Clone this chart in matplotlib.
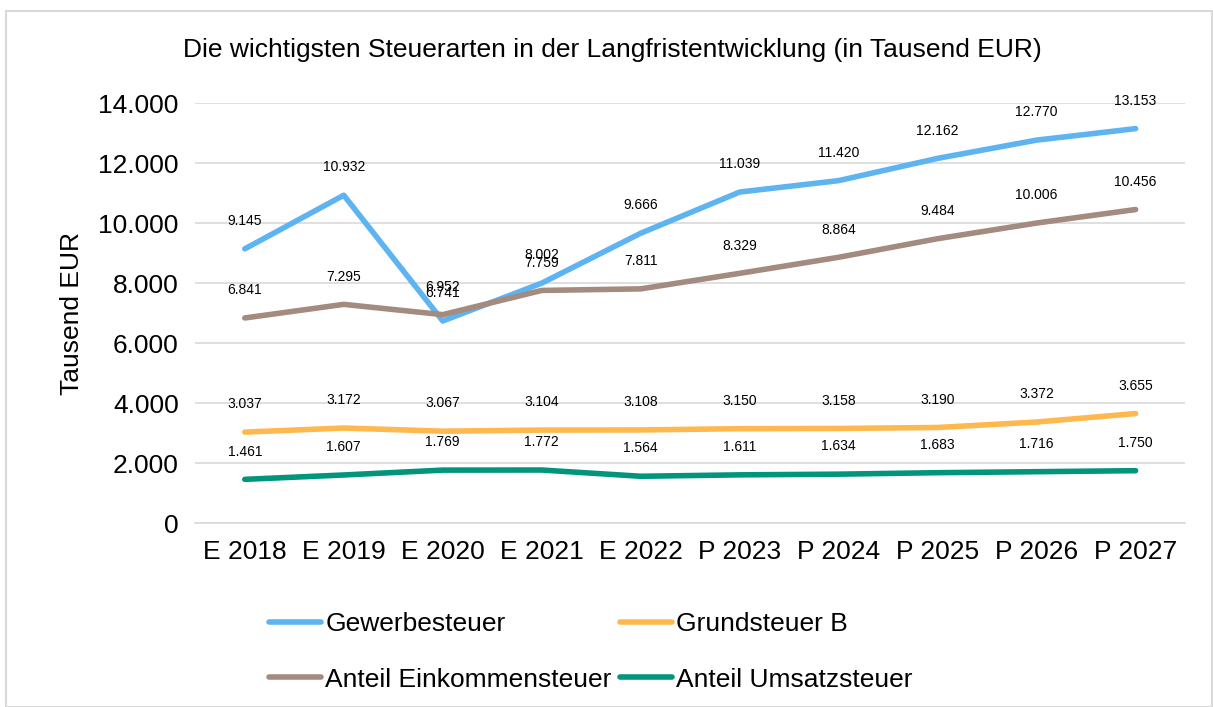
import matplotlib.pyplot as plt
from matplotlib.patches import Rectangle

plt.rcParams['font.family'] = ['Liberation Sans Narrow', 'Liberation Sans', 'DejaVu Sans']

# Daten
jahre = ['E 2018', 'E 2019', 'E 2020', 'E 2021', 'E 2022', 'P 2023', 'P 2024', 'P 2025', 'P 2026', 'P 2027']
gewerbesteuer = [9145, 10932, 6741, 8002, 9666, 11039, 11420, 12162, 12770, 13153]
grundsteuer_b = [3037, 3172, 3067, 3104, 3108, 3150, 3158, 3190, 3372, 3655]
einkommensteuer = [6841, 7295, 6952, 7759, 7811, 8329, 8864, 9484, 10006, 10456]
umsatzsteuer = [1461, 1607, 1769, 1772, 1564, 1611, 1634, 1683, 1716, 1750]

def fmt(v):
    return f'{v:,}'.replace(',', '.')

fig = plt.figure(figsize=(12.13, 7.07), dpi=100)
ax = fig.add_axes([0.161, 0.26, 0.816, 0.594])

serien = [
    ('Gewerbesteuer', gewerbesteuer, '#5EB3F1'),
    ('Anteil Einkommensteuer', einkommensteuer, '#A38B80'),
    ('Grundsteuer B', grundsteuer_b, '#FFB84D'),
    ('Anteil Umsatzsteuer', umsatzsteuer, '#00957C'),
]

x = range(len(jahre))
handles = []
for name, werte, farbe in serien:
    h, = ax.plot(x, werte, color=farbe, lw=4, label=name, solid_capstyle='round', zorder=3)
    handles.append(h)
    for xi, v in zip(x, werte):
        ax.annotate(fmt(v), (xi, v), xytext=(0, 20), textcoords='offset points',
                    ha='center', va='center', fontsize=10, zorder=4)

ax.set_xlim(-0.5, len(jahre) - 0.5)
ax.set_ylim(0, 14000)
ax.set_yticks(range(0, 14001, 2000))
ax.set_yticklabels([fmt(v) for v in range(0, 14001, 2000)], fontsize=19)
ax.set_xticks(list(x))
ax.set_xticklabels(jahre, fontsize=19)
ax.tick_params(length=0, pad=12)
ax.grid(axis='y', color='#D9D9D9', lw=1.2)
ax.set_axisbelow(True)
for s in ['top', 'right', 'left']:
    ax.spines[s].set_visible(False)
ax.spines['bottom'].set_color('#D9D9D9')
ax.spines['bottom'].set_linewidth(1.2)
ax.set_ylabel('Tausend EUR', fontsize=19, labelpad=10)

fig.text(0.505, 0.929, 'Die wichtigsten Steuerarten in der Langfristentwicklung (in Tausend EUR)',
         ha='center', va='center', fontsize=19)

fig.legend(handles=handles, loc='upper center', bbox_to_anchor=(0.487, 0.168), ncol=2,
           frameon=False, fontsize=19, handlelength=2.0, handletextpad=0.15,
           columnspacing=0.3, labelspacing=1.2)

fig.patches.append(Rectangle((0.005, 0.0), 0.994, 0.985, transform=fig.transFigure,
                             fill=False, edgecolor='#D9D9D9', lw=1.5))

fig.savefig('out.png', dpi=100)
